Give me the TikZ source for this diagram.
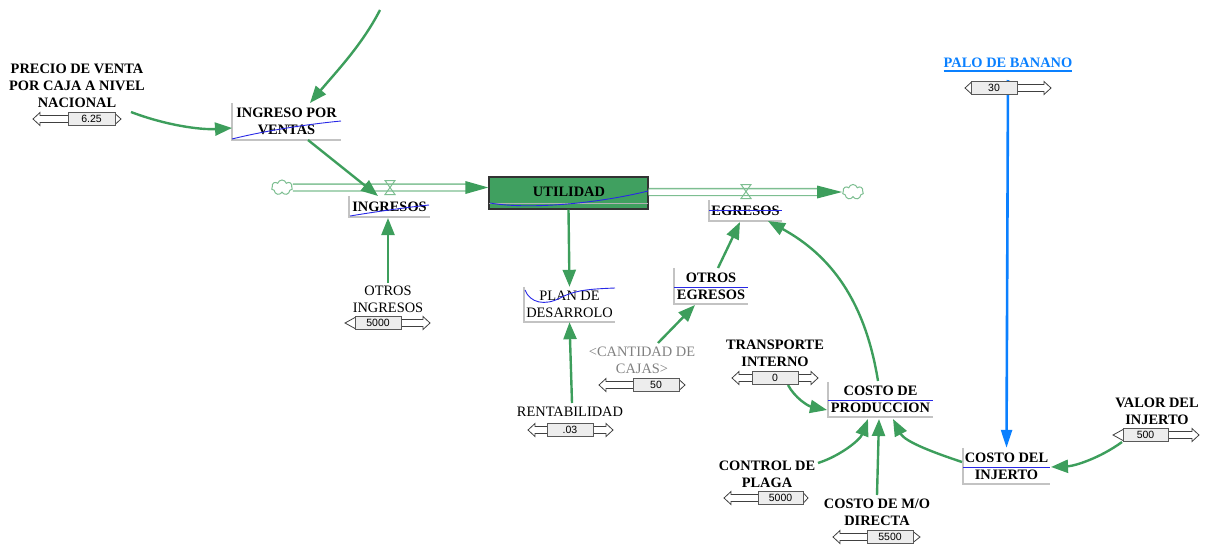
\documentclass[tikz,border=0pt]{standalone}
\usepackage{fontspec}
\setmainfont{Liberation Serif}
\newfontfamily\valfont{Liberation Sans}
\usetikzlibrary{arrows.meta,calc,shapes.symbols}

\definecolor{linkgreen}{RGB}{61,158,92}
\definecolor{pipegreen}{RGB}{125,190,145}
\definecolor{stockgreen}{RGB}{64,160,96}
\definecolor{sketchblue}{RGB}{40,40,230}
\definecolor{framegrey}{RGB}{195,195,195}
\definecolor{linkblue}{RGB}{10,128,255}
\definecolor{shadowgrey}{RGB}{128,128,128}

\tikzset{
  lbl/.style={font=\fontsize{14.4}{17}\selectfont\bfseries, align=center, inner sep=0pt},
  plainlbl/.style={font=\fontsize{14.4}{17}\selectfont, align=center, inner sep=0pt},
  framed/.style={draw=framegrey, line width=1.5pt},
  sketch/.style={draw=sketchblue, line width=0.9pt},
  link/.style={draw=linkgreen, line width=2.4pt, -{Triangle[length=17pt,width=13pt]}},
  bluelink/.style={draw=linkblue, line width=2.6pt, -{Triangle[length=18pt,width=11pt]}},
  pipe/.style={draw=pipegreen, line width=1.3pt, double=white, double distance=5.5pt},
  valvestyle/.style={draw=pipegreen, line width=1pt},
  cloudnode/.style={shape=cloud, cloud puffs=7, aspect=1.4, draw=pipegreen, line width=1pt,
    minimum width=21pt, minimum height=15pt, inner sep=0pt},
  stock/.style={draw=black!80, line width=1.3pt, fill=stockgreen, minimum width=159pt,
    minimum height=32pt, inner sep=0pt},
  sliderarrow/.style={draw=black!75, line width=0.8pt, fill=white},
  valbox/.style={draw=black!65, fill=black!7, line width=0.8pt, inner sep=0pt,
    minimum height=13pt, font=\valfont\fontsize{10.5}{12}\selectfont},
}

% slider: name, y, track left, box left, box right, track right, value
\newcommand\slidercontrol[7]{%
  \pgfmathsetmacro\slLeft{#4-#3}%
  \pgfmathsetmacro\slRight{#6-#5}%
  \ifdim\slLeft pt>11pt
    \draw[sliderarrow] (#4,#2-3.5) -- (#3+7,#2-3.5) -- (#3+7,#2-6.5) -- (#3,#2)
      -- (#3+7,#2+6.5) -- (#3+7,#2+3.5) -- (#4,#2+3.5);
  \else
    \draw[sliderarrow] (#4,#2-5.5) -- (#3,#2) -- (#4,#2+5.5);
  \fi
  \ifdim\slRight pt>11pt
    \draw[sliderarrow] (#5,#2-3.5) -- (#6-7,#2-3.5) -- (#6-7,#2-6.5) -- (#6,#2)
      -- (#6-7,#2+6.5) -- (#6-7,#2+3.5) -- (#5,#2+3.5);
  \else
    \draw[sliderarrow] (#5,#2-5.5) -- (#6,#2) -- (#5,#2+5.5);
  \fi
  \node[valbox, minimum width={#5-#4}] (#1) at ({(#4+#5)/2},#2) {#7};
}

\begin{document}
\begin{tikzpicture}[x=1pt,y=-1pt]
\useasboundingbox (0,0) rectangle (1205,544);

% ---- stock and flows ----
\node[cloudnode] (cloudL) at (282,187.5) {};
\node[cloudnode] (cloudR) at (853,192) {};
\node[stock] (utilidad) at (568.5,193) {};
\draw[draw=black!30, line width=0.8pt] ($(utilidad.south west)+(1,-6)$) -- ($(utilidad.south east)+(-1,-6)$);
\draw[sketch] (490,203) .. controls (530,210) and (600,203) .. (648,191);
\node[lbl] (utilidadlabel) at (569,192) {UTILIDAD};

\draw[pipe] (cloudL.east) -- ($(utilidad.west)+(-22,-5.5)$);
\fill[linkgreen] ($(utilidad.west)+(-23,-12)$) -- ($(utilidad.west)+(0,-5.5)$) -- ($(utilidad.west)+(-23,1)$) -- cycle;
\draw[pipe] ($(utilidad.east)+(0,-1)$) -- ($(cloudR.west)+(-24,0)$);
\fill[linkgreen] ($(cloudR.west)+(-25,-6.5)$) -- (cloudR.west) -- ($(cloudR.west)+(-25,6.5)$) -- cycle;

\coordinate (valveL) at (390,187.5);
\coordinate (valveR) at (746,191.5);
\draw[valvestyle] ($(valveL)+(-5,-7)$) -- ($(valveL)+(5,-7)$) -- ($(valveL)+(-5,7)$) -- ($(valveL)+(5,7)$) -- cycle;
\draw[valvestyle] ($(valveR)+(-5,-7)$) -- ($(valveR)+(5,-7)$) -- ($(valveR)+(-5,7)$) -- ($(valveR)+(5,7)$) -- cycle;

% ---- variables ----
\node[lbl] (precio) at (77,86) {PRECIO DE VENTA\\POR CAJA A NIVEL\\NACIONAL};

\node[lbl, minimum width=109pt, minimum height=37pt] (ipv) at (286.5,121.5) {INGRESO POR\\VENTAS};
\draw[framed] (ipv.north west) |- (ipv.south east);
\draw[sketch] (232,139) .. controls (260,132) and (300,125) .. (341,121);

\node[lbl, minimum width=81pt, minimum height=21pt] (ingresos) at (389.5,206.5) {INGRESOS};
\draw[framed] (ingresos.north west) |- (ingresos.south east);
\draw[sketch] (350,216) .. controls (380,211) and (410,207) .. (429,205);

\node[lbl, minimum width=73pt, minimum height=21pt] (egresos) at (745.5,210.5) {EGRESOS};
\draw[framed] (egresos.north west) |- (egresos.south east);
\draw[sketch] (709,210) -- (782,210);

\node[plainlbl] (otrosing) at (388,299) {OTROS\\INGRESOS};

\node[plainlbl, minimum width=91pt, minimum height=35pt] (plan) at (569.5,304.5) {PLAN DE\\DESARROLO};
\draw[framed] (plan.north west) |- (plan.south east);
\draw[sketch] (525,290) .. controls (530,303) and (545,306) .. (560,298)
  .. controls (575,290) and (590,289) .. (615,288);

\node[plainlbl] (rent) at (570,412) {RENTABILIDAD};
\node[plainlbl, text=shadowgrey] (cant) at (642,360.5) {\textless CANTIDAD DE\\CAJAS\textgreater};

\node[lbl, minimum width=74pt, minimum height=36pt] (otroseg) at (711,286) {OTROS\\EGRESOS};
\draw[framed] (otroseg.north west) |- (otroseg.south east);
\draw[sketch] (674,287) -- (748,287);

\node[lbl] (transp) at (775,353.5) {TRANSPORTE\\INTERNO};

\node[lbl, minimum width=105pt, minimum height=35pt] (cprod) at (880.5,399.5) {COSTO DE\\PRODUCCION};
\draw[framed] (cprod.north west) |- (cprod.south east);
\draw[sketch] (828,400) -- (933,400);

\node[lbl] (control) at (767,474) {CONTROL DE\\PLAGA};
\node[lbl] (mo) at (877,512) {COSTO DE M/O\\DIRECTA};

\node[lbl, minimum width=87pt, minimum height=36pt] (cinj) at (1006.5,466) {COSTO DEL\\INJERTO};
\draw[framed] (cinj.north west) |- (cinj.south east);
\draw[sketch] (963,467) -- (1050,467);

\node[lbl, text=linkblue] (palo) at (1008,63) {PALO DE BANANO};
\draw[draw=linkblue, line width=1.6pt] ([yshift=-3pt]palo.south west) -- ([yshift=-3pt]palo.south east);

\node[lbl] (valor) at (1157,411.5) {VALOR DEL\\INJERTO};

% ---- connectors ----
\coordinate (topin) at (380,10);
\draw[link] (topin) .. controls (362,45) and (336,72) .. ($(ipv)+(23.5,-18.5)$);
\draw[link] ($(precio)+(54,26)$) .. controls (165,125) and (200,130) .. ($(ipv)+(-54.5,6.5)$);
\draw[link] ($(ipv)+(21.5,18.5)$) -- ($(ingresos)+(-11.5,-10.5)$);
\draw[link] ($(otrosing)+(0,-16)$) -- ($(ingresos)+(-1.5,11.5)$);
\draw[link] (utilidad.south) -- (plan.north);
\draw[link] ($(rent)+(2,-9)$) -- (plan.south);
\draw[link] ($(cant)+(16,-17.5)$) -- ($(otroseg)+(-16,19)$);
\draw[link] ($(otroseg)+(7,-18)$) -- ($(egresos)+(-5.5,11.5)$);
\draw[link] ($(cprod)+(-2.5,-18.5)$) .. controls (865,300) and (830,255) .. ($(egresos)+(22.5,10.5)$);
\draw[link] ($(transp)+(13,31.5)$) .. controls (795,398) and (808,406) .. ($(cprod)+(-53.5,10.5)$);
\draw[link] ($(control)+(51,-11)$) .. controls (840,456) and (860,440) .. ($(cprod)+(-12.5,19.5)$);
\draw[link] ($(mo)+(0,-17)$) -- ($(cprod)+(-1.5,19.5)$);
\draw[link] ($(cinj)+(-44.5,-4)$) .. controls (935,453) and (905,442) .. ($(cprod)+(12.5,19.5)$);
\draw[bluelink] ($(palo)+(0,17)$) -- (cinj.north);
\draw[link] ($(valor)+(-35,30.5)$) .. controls (1100,458) and (1075,466) .. ($(cinj)+(44.5,1)$);

% ---- sliders ----
\slidercontrol{precioval}{119}{33}{68}{115}{121}{6.25}
\slidercontrol{otrosingval}{323}{345}{355}{401}{430}{5000}
\slidercontrol{rentval}{430}{528}{547}{593}{613}{.03}
\slidercontrol{cantval}{385}{599}{633}{679}{685}{50}
\slidercontrol{transpval}{378}{732}{752}{798}{818}{0}
\slidercontrol{controlval}{498}{724}{758}{803}{808}{5000}
\slidercontrol{moval}{537}{833}{867}{913}{920}{5500}
\slidercontrol{paloval}{88}{965}{971}{1017}{1051}{30}
\slidercontrol{valorval}{435}{1113}{1123}{1168}{1199}{500}

\end{tikzpicture}
\end{document}
